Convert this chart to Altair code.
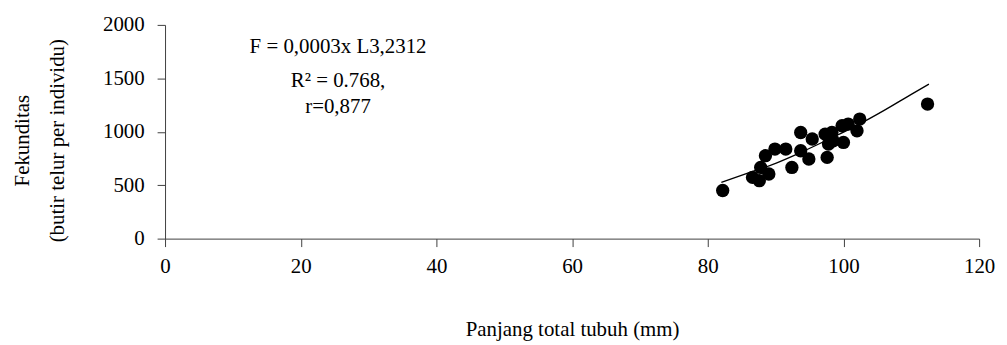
import altair as alt
import pandas as pd

# observed points: total length (mm) and fecundity (eggs per individual)
length_mm = [82.2, 86.6, 87.6, 89.0, 87.8, 88.5, 89.9, 91.5, 92.4, 93.7, 93.7,
             94.9, 95.4, 97.6, 97.3, 98.3, 97.8, 100.0, 99.8, 100.7, 102.0,
             102.4, 98.5, 112.4]
fecundity = [450, 573, 542, 605, 666, 776, 838, 838, 666, 993, 822,
             745, 932, 760, 978, 993, 885, 900, 1056, 1072, 1009,
             1119, 915, 1259]

# fitted trend line
fit_len = [82.0, 86.0, 90.0, 94.0, 98.0, 102.0, 106.0, 110.0, 112.6]
fit_val = [526, 615, 705, 815, 935, 1060, 1200, 1350, 1446]

# annotation text
ann_text = ["F = 0,0003x L3,2312", "R\u00b2 = 0.768,", "r=0,877"]
ann_x = [25.5, 25.5, 25.5]
ann_y = [1794, 1477, 1234]

x_ticks = [0, 20, 40, 60, 80, 100, 120]
y_ticks = [0, 500, 1000, 1500, 2000]

pts = pd.DataFrame({"L": length_mm, "F": fecundity})
fit = pd.DataFrame({"L": fit_len, "F": fit_val})
ann = pd.DataFrame({"t": ann_text, "L": ann_x, "F": ann_y})

FONT = "Liberation Serif"

xs = alt.Scale(domain=[0, 120], nice=False, zero=True)
ys = alt.Scale(domain=[0, 2000], nice=False)

xax = alt.Axis(values=x_ticks, title="Panjang total tubuh (mm)", grid=False,
               format="d", labelFlush=False,
               labelFont=FONT, labelFontSize=21, labelColor="black",
               titleFont=FONT, titleFontSize=21, titleFontWeight="normal",
               titleColor="black", titlePadding=42, labelPadding=9,
               domainColor="#404040", tickColor="#404040", tickSize=8)
yax = alt.Axis(values=y_ticks, title=["Fekunditas", "(butir telur per individu)"],
               grid=False, format="d", labelFlush=False,
               labelFont=FONT, labelFontSize=21, labelColor="black",
               titleFont=FONT, titleFontSize=21, titleFontWeight="normal",
               titleColor="black", titlePadding=35, labelPadding=13,
               titleLineHeight=35, titleY=116,
               domainColor="#404040", tickColor="#404040", tickSize=8)

points = alt.Chart(pts).mark_circle(size=180, color="black", opacity=1).encode(
    x=alt.X("L:Q", scale=xs, axis=xax),
    y=alt.Y("F:Q", scale=ys, axis=yax),
)

line = alt.Chart(fit).mark_line(color="black", strokeWidth=1.3, interpolate="monotone").encode(
    x=alt.X("L:Q", scale=xs),
    y=alt.Y("F:Q", scale=ys),
)

text = alt.Chart(ann).mark_text(font=FONT, fontSize=21, color="black",
                                align="center", baseline="middle").encode(
    x=alt.X("L:Q", scale=xs),
    y=alt.Y("F:Q", scale=ys),
    text="t:N",
)

chart = alt.layer(points, line, text).properties(
    width=819, height=215,
    autosize=alt.AutoSizeParams(type="none"),
    padding={"left": 158, "top": 16, "right": 20, "bottom": 103},
).configure_view(stroke=None)

chart.save("out.html", embed_options={"renderer": "svg", "actions": False})
